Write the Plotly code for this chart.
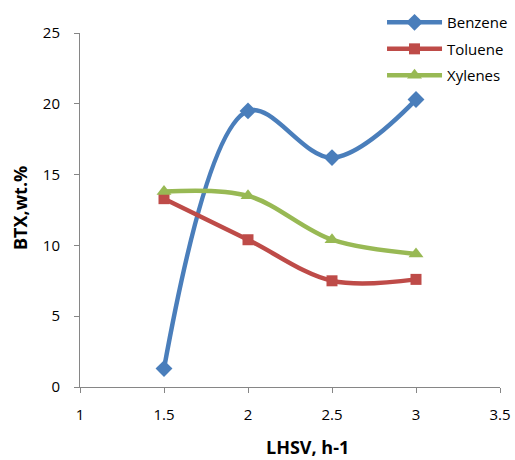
import plotly.graph_objects as go

# LHSV (h-1) and BTX yields (wt.%)
lhsv = [1.5, 2.0, 2.5, 3.0]
benzene = [1.3, 19.5, 16.2, 20.3]
toluene = [13.3, 10.4, 7.5, 7.6]
xylenes = [13.8, 13.5, 10.4, 9.4]

x_ticks = [1, 1.5, 2, 2.5, 3, 3.5]
y_ticks = [0, 5, 10, 15, 20, 25]

FONT = "'Open Sans', Lato, sans-serif"
AXIS_GREY = "#868686"
TEXT = "#000000"

fig = go.Figure()

series = [
    ("Benzene", benzene, "#4A7EBB", "diamond", 13),
    ("Toluene", toluene, "#BE4B48", "square", 11),
    ("Xylenes", xylenes, "#98B954", "triangle-up", 13),
]
for name, vals, color, symbol, size in series:
    fig.add_trace(go.Scatter(
        x=lhsv, y=vals, name=name, legendgroup=name, mode="lines+markers",
        line=dict(color=color, width=4.5, shape="spline", smoothing=1.0),
        marker=dict(symbol=symbol, size=size, color=color),
    ))

# axis titles
fig.add_annotation(
    text="<b>LHSV, h-1</b>", xref="paper", yref="paper",
    x=(307 - 80) / 420, y=-(447 - 387) / 354, xanchor="center", yanchor="middle",
    showarrow=False, font=dict(family=FONT, size=18, color=TEXT),
)
fig.add_annotation(
    text="<b>BTX,wt.%</b>", xref="paper", yref="paper", textangle=-90,
    x=-(80 - 20) / 420, y=(387 - 208) / 354, xanchor="center", yanchor="middle",
    showarrow=False, font=dict(family=FONT, size=18, color=TEXT),
)

fig.update_layout(
    width=515, height=460,
    margin=dict(l=80, r=15, t=33, b=73, autoexpand=False),
    paper_bgcolor="white", plot_bgcolor="white",
    font=dict(family=FONT, size=15, color=TEXT),
    showlegend=True,
    legend=dict(
        x=1.031, y=1.076, xanchor="right", yanchor="top",
        font=dict(family=FONT, size=15, color=TEXT),
        bgcolor="rgba(0,0,0,0)", itemwidth=55, tracegroupgap=4,
    ),
    xaxis=dict(
        range=[1, 3.5], tickvals=x_ticks, ticktext=[str(v) for v in x_ticks],
        showgrid=False, zeroline=False, showline=True, linecolor=AXIS_GREY,
        linewidth=1, ticks="outside", ticklen=5, tickcolor=AXIS_GREY,
        tickfont=dict(size=15, color=TEXT), ticklabelstandoff=9,
    ),
    yaxis=dict(
        range=[0, 25], tickvals=y_ticks,
        showgrid=False, zeroline=False, showline=True, linecolor=AXIS_GREY,
        linewidth=1, ticks="outside", ticklen=5, tickcolor=AXIS_GREY,
        tickfont=dict(size=15, color=TEXT), ticklabelstandoff=11,
    ),
)

fig.write_html("out.html")
